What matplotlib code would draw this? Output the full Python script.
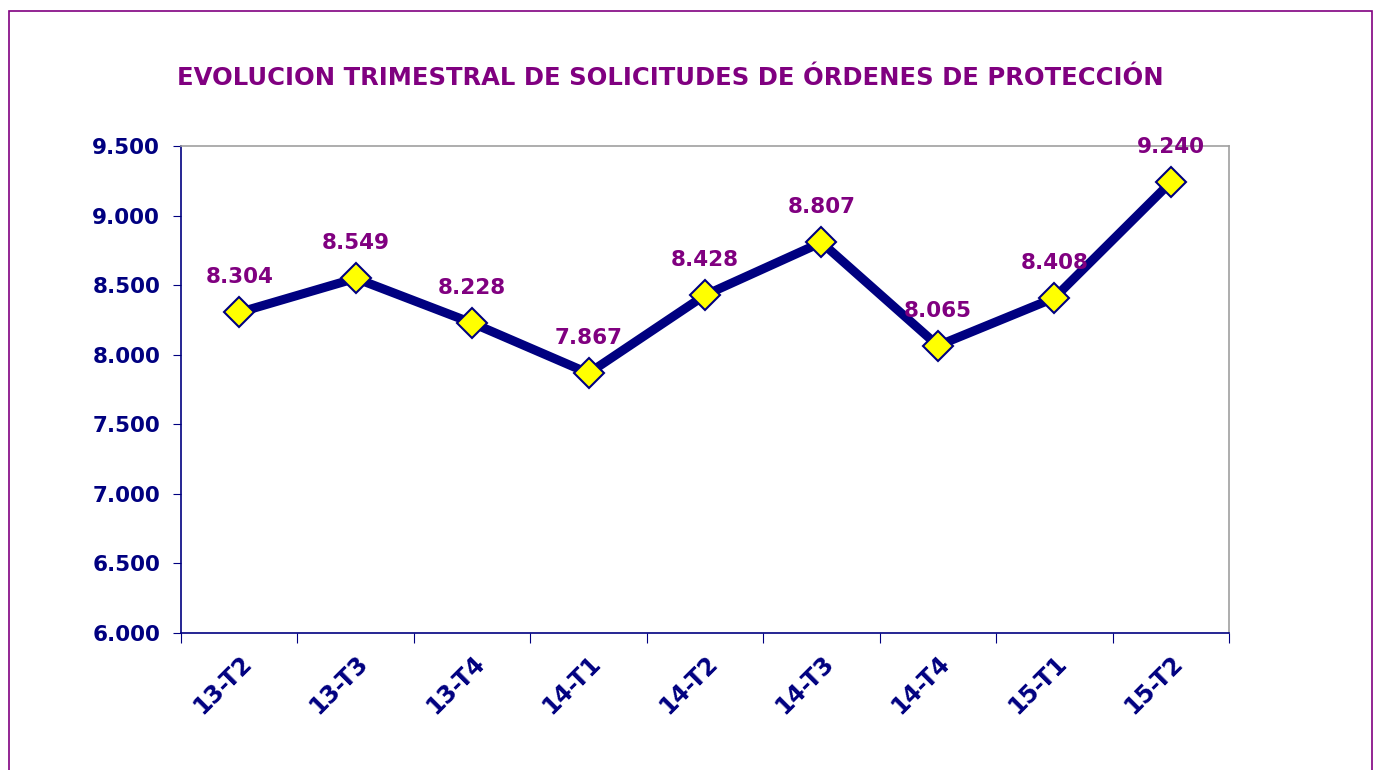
import matplotlib.pyplot as plt
from matplotlib.patches import Rectangle
from matplotlib.ticker import FuncFormatter, MultipleLocator

quarters = ['13-T2', '13-T3', '13-T4', '14-T1', '14-T2', '14-T3', '14-T4', '15-T1', '15-T2']
solicitudes = [8304, 8549, 8228, 7867, 8428, 8807, 8065, 8408, 9240]

navy = '#000080'
purple = '#800080'


def miles(v, pos=None):
    return f'{int(v):,}'.replace(',', '.')


fig = plt.figure(figsize=(13.79, 7.70), dpi=100)
fig.patches.append(Rectangle((9 / 1379, -0.05), 1363 / 1379, 1 - 11 / 770 + 0.05,
                             transform=fig.transFigure, fill=False,
                             edgecolor=purple, linewidth=1.2))

ax = fig.add_axes([181 / 1379, 1 - 633 / 770, 1048 / 1379, 487 / 770])
x = [i + 0.5 for i in range(len(quarters))]
ax.plot(x, solicitudes, color=navy, linewidth=6.5, marker='D', markersize=15,
        markerfacecolor='#ffff00', markeredgecolor=navy, markeredgewidth=1.5,
        solid_joinstyle='miter', zorder=3)

for xi, v in zip(x, solicitudes):
    ax.annotate(miles(v), (xi, v), xytext=(0, 18), textcoords='offset points',
                ha='center', va='bottom', color=purple, fontsize=15.5,
                fontweight='bold', zorder=4)

ax.set_xlim(0, len(quarters))
ax.set_ylim(6000, 9500)
ax.yaxis.set_major_locator(MultipleLocator(500))
ax.yaxis.set_major_formatter(FuncFormatter(miles))
ax.set_xticks(range(len(quarters) + 1))
ax.set_xticklabels([])
ax.set_xticks(x, minor=True)
ax.set_xticklabels(quarters, minor=True, rotation=45, ha='right', va='top',
                   rotation_mode='anchor')
ax.tick_params(axis='x', which='minor', length=0, pad=13, labelcolor=navy,
               labelsize=17)
ax.tick_params(axis='x', which='major', length=7, color=navy)
ax.tick_params(axis='y', length=6, color=navy, labelcolor=navy, labelsize=15.5, pad=9)
for lab in ax.get_xticklabels(minor=True) + ax.get_yticklabels():
    lab.set_fontweight('bold')

for s in ['left', 'bottom']:
    ax.spines[s].set_color(navy)
    ax.spines[s].set_linewidth(1.2)
for s in ['top', 'right']:
    ax.spines[s].set_color('#a0a0a0')
    ax.spines[s].set_linewidth(1.2)

fig.text(670 / 1379, 1 - 78 / 770, 'EVOLUCION TRIMESTRAL DE SOLICITUDES DE ÓRDENES DE PROTECCIÓN',
         ha='center', va='center', color=purple, fontsize=17.5, fontweight='bold')

fig.savefig('out.png', dpi=100)
